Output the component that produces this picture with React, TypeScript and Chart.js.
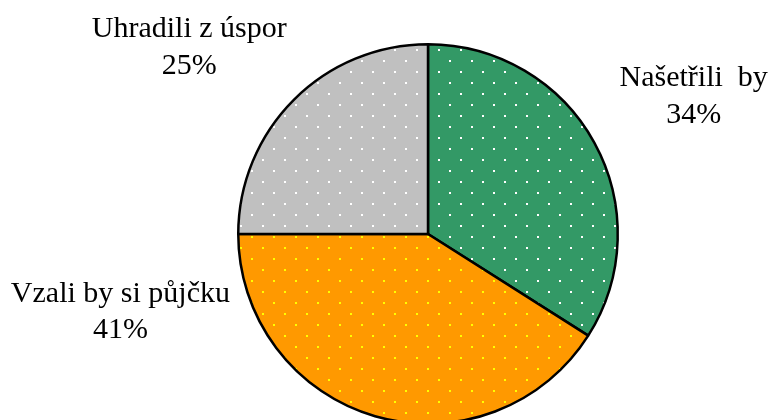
import React, { useEffect, useRef } from "react";
import { Chart, registerables } from "chart.js";

Chart.register(...registerables);

const categories = ["Našetřili  by", "Vzali by si půjčku", "Uhradili z úspor"];
const values = [34, 41, 25];
const percentLabels = ["34%", "41%", "25%"];
const baseColors = ["#339966", "#FF9900", "#C0C0C0"];
const dotColors = ["#FFFFFF", "#FFFF00", "#FFFFFF"];
// label anchor offsets relative to pie centre, in units of radius (first-line baseline)
const labelOffsets = [
  [1.4, -0.779],
  [-1.621, 0.358],
  [-1.258, -1.037],
];

function makePattern(base: string, dot: string): CanvasPattern | string {
  const c = document.createElement("canvas");
  c.width = 22;
  c.height = 22;
  const ctx = c.getContext("2d");
  if (!ctx) return base;
  ctx.fillStyle = base;
  ctx.fillRect(0, 0, 22, 22);
  ctx.fillStyle = dot;
  ctx.fillRect(9, 16, 2, 2);
  ctx.fillRect(20, 5, 2, 2);
  const p = ctx.createPattern(c, "repeat");
  return p || base;
}

const labelPlugin = {
  id: "outerLabels",
  afterDraw(chart: any) {
    const ctx = chart.ctx;
    const meta = chart.getDatasetMeta(0);
    const arc = meta.data[0];
    if (!arc) return;
    const cx = arc.x;
    const cy = arc.y;
    const r = arc.outerRadius;
    ctx.save();
    ctx.fillStyle = "#000000";
    ctx.font = "30px 'Liberation Serif', 'Times New Roman', serif";
    ctx.textAlign = "center";
    ctx.textBaseline = "alphabetic";
    categories.forEach((name, i) => {
      const x = cx + labelOffsets[i][0] * r;
      const y = cy + labelOffsets[i][1] * r;
      ctx.fillText(name, x, y);
      ctx.fillText(percentLabels[i], x, y + 36.5);
    });
    ctx.restore();
  },
};

export default function App() {
  const ref = useRef<HTMLCanvasElement | null>(null);
  useEffect(() => {
    if (!ref.current) return;
    const bg = categories.map((_, i) => makePattern(baseColors[i], dotColors[i]));
    const chart = new Chart(ref.current, {
      type: "pie",
      data: {
        labels: categories,
        datasets: [
          {
            data: values,
            backgroundColor: bg as any,
            borderColor: "#000000",
            borderWidth: 2.5,
            hoverOffset: 0,
          },
        ],
      },
      options: {
        responsive: false,
        animation: false,
        layout: { padding: { left: 237, right: 150, top: 43, bottom: 15 } },
        plugins: {
          legend: { display: false },
          tooltip: { enabled: false },
        },
      },
      plugins: [labelPlugin],
    });
    return () => chart.destroy();
  }, []);
  return (
    <div
      style={{
        position: "absolute",
        left: 0,
        top: 0,
        width: 769,
        height: 420,
        overflow: "hidden",
        background: "#ffffff",
      }}
    >
      <canvas ref={ref} width={769} height={440} style={{ width: 769, height: 440, display: "block" }} />
    </div>
  );
}
